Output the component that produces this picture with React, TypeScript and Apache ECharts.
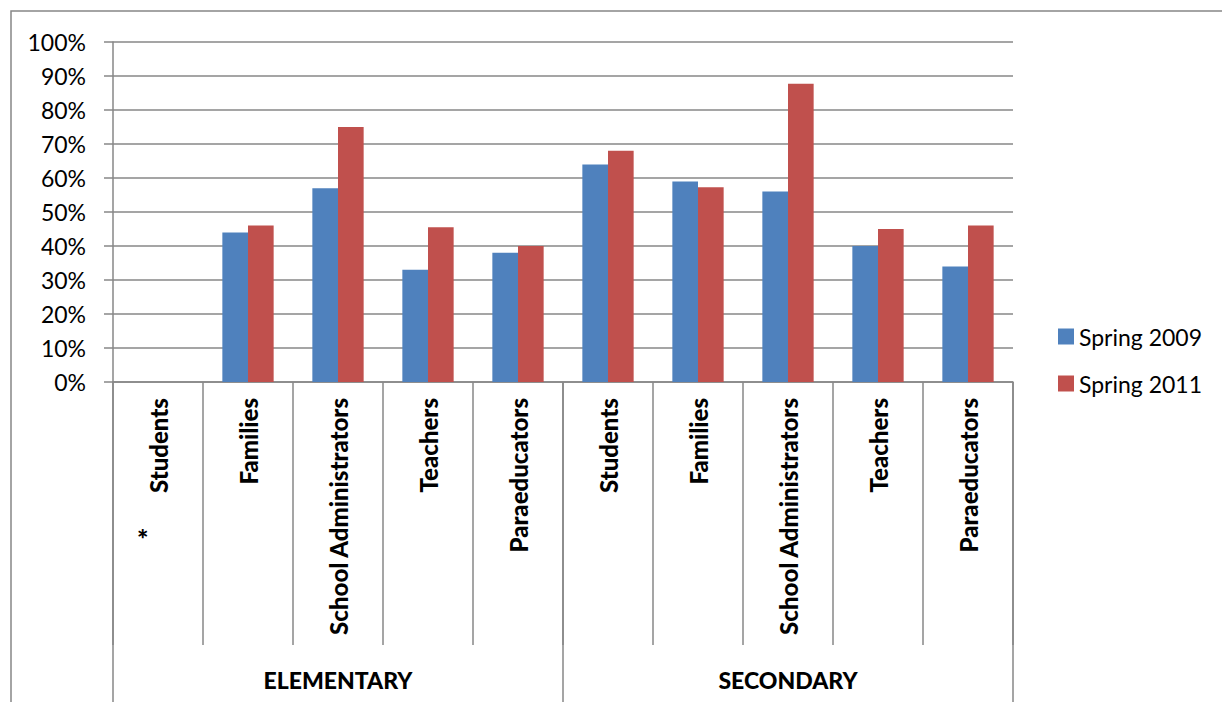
import React, { useEffect, useRef } from "react";
import * as echarts from "echarts";

// Survey respondents, by school level
const groups = ["ELEMENTARY", "SECONDARY"];
const categories = [
  "Students",
  "Families",
  "School Administrators",
  "Teachers",
  "Paraeducators",
  "Students",
  "Families",
  "School Administrators",
  "Teachers",
  "Paraeducators",
];
// Percent values; elementary students were not surveyed (null)
const spring2009 = [null, 44, 57, 33, 38, 64, 59, 56, 40, 34];
const spring2011 = [null, 46, 75, 45.5, 40, 68, 57.3, 87.7, 45, 46];
const yTicks = { min: 0, max: 100, interval: 10 };

const FONT = "Lato, 'Noto Sans', sans-serif";
const GRAY = "#878787";

export default function App() {
  const ref = useRef<HTMLDivElement>(null);

  useEffect(() => {
    document.body.style.margin = "0";
    if (!ref.current) return;
    const chart = echarts.init(ref.current, null, { renderer: "svg" });
    chart.setOption({
      animation: false,
      backgroundColor: "#ffffff",
      textStyle: { fontFamily: FONT, color: "#000" },
      grid: { left: 113, top: 42, right: 209, bottom: 320, containLabel: false },
      legend: {
        orient: "vertical",
        left: 1053,
        top: 320,
        itemWidth: 16,
        itemHeight: 16,
        itemGap: 24,
        icon: "rect",
        textStyle: { fontFamily: FONT, fontSize: 23, color: "#000" },
        data: ["Spring 2009", "Spring 2011"],
      },
      xAxis: [
        {
          type: "category",
          data: categories,
          position: "bottom",
          axisLine: { show: true, lineStyle: { color: GRAY, width: 1.5 } },
          axisTick: {
            show: true,
            interval: 0,
            length: 263,
            lineStyle: { color: GRAY, width: 1.5 },
          },
          axisLabel: {
            interval: 0,
            rotate: 90,
            margin: 16,
            fontFamily: FONT,
            fontSize: 24,
            fontWeight: 900,
            color: "#000",
          },
        },
        {
          type: "category",
          data: groups,
          position: "bottom",
          axisLine: { show: false },
          axisTick: {
            show: true,
            interval: 0,
            length: 330,
            lineStyle: { color: GRAY, width: 1.5 },
          },
          axisLabel: {
            interval: 0,
            margin: 286,
            fontFamily: FONT,
            fontSize: 23,
            fontWeight: 900,
            color: "#000",
          },
        },
      ],
      yAxis: {
        type: "value",
        min: yTicks.min,
        max: yTicks.max,
        interval: yTicks.interval,
        axisLine: { show: true, lineStyle: { color: GRAY, width: 1.5 } },
        axisTick: { show: true, length: 9, lineStyle: { color: GRAY, width: 1.5 } },
        splitLine: { show: true, lineStyle: { color: GRAY, width: 1.5 } },
        axisLabel: {
          formatter: "{value}%",
          margin: 27,
          fontFamily: FONT,
          fontSize: 23,
          color: "#000",
        },
      },
      series: [
        {
          name: "Spring 2009",
          type: "bar",
          xAxisIndex: 0,
          data: spring2009,
          barGap: "0%",
          barCategoryGap: "43%",
          itemStyle: { color: "#4F81BD" },
        },
        {
          name: "Spring 2011",
          type: "bar",
          xAxisIndex: 0,
          data: spring2011,
          barGap: "0%",
          barCategoryGap: "43%",
          itemStyle: { color: "#C0504D" },
        },
      ],
      graphic: [
        {
          type: "rect",
          silent: true,
          shape: { x: 11, y: 11, width: 1400, height: 900 },
          style: { fill: "none", stroke: GRAY, lineWidth: 1.5 },
        },
        {
          type: "text",
          silent: true,
          left: 137,
          top: 525,
          style: {
            text: "*",
            fontFamily: FONT,
            fontSize: 27,
            fontWeight: 900,
            fill: "#000",
          },
        },
      ],
    });
    return () => chart.dispose();
  }, []);

  return <div ref={ref} style={{ width: 1222, height: 702 }} />;
}
